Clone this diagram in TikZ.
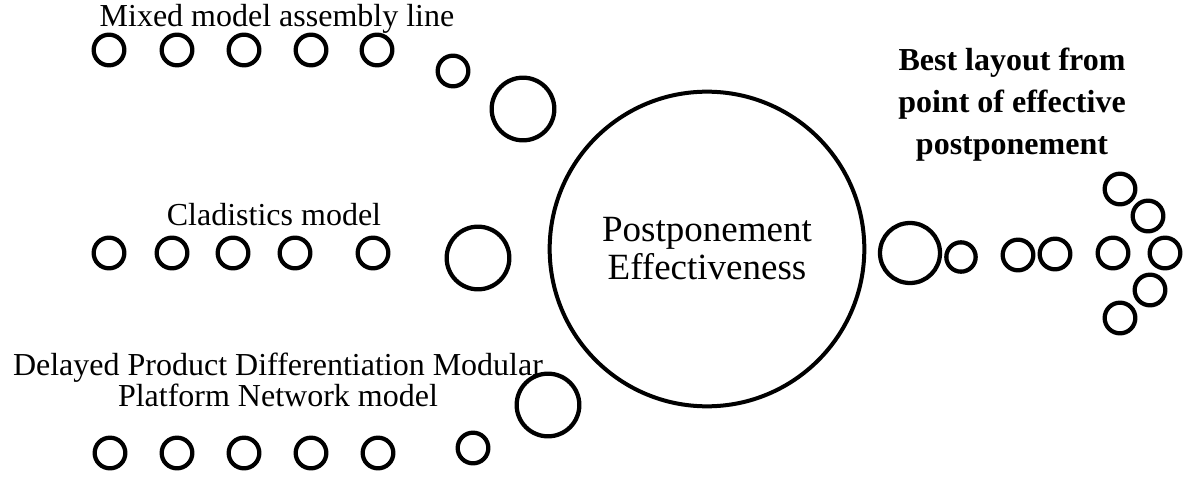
\documentclass[tikz,border=0pt]{standalone}
\usepackage{fontspec}
\setmainfont{Liberation Serif}
\usetikzlibrary{positioning}

\begin{document}
\begin{tikzpicture}[
			x=0.75pt, y=-0.75pt,
			every node/.style={inner sep=0pt, font=\fontsize{24}{24}\selectfont},
			dot/.style={circle, draw, line width=3.2pt, minimum size=23pt},
			bigdot/.style={circle, draw, line width=3.2pt, minimum size=47pt},
			hub/.style={circle, draw, line width=3pt, minimum size=236pt, align=center, font=\fontsize{27.75}{28.5}\selectfont},
			heading/.style={align=center}
			]
			\useasboundingbox (0,0) rectangle (1183,478);
			
			% Centre
			\node (hub) [hub] at (707,249) {Postponement\\Effectiveness};
			
			% Mixed model row
			\node (mixed) [heading, anchor=base] at (277,27) {Mixed model assembly line};
			\node (m1) [dot] at (109,50) {};
			\node (m2) [dot] at (177,50) {};
			\node (m3) [dot] at (244,50) {};
			\node (m4) [dot] at (311,50) {};
			\node (m5) [dot] at (377,50) {};
			\node (m6) [dot] at (453,71) {};
			\node (m7) [bigdot] at (523,109) {};
			
			% Cladistics row
			\node (clad) [heading, anchor=base] at (274,225) {Cladistics model};
			\node (c1) [dot] at (109,253) {};
			\node (c2) [dot] at (172,253) {};
			\node (c3) [dot] at (233,253) {};
			\node (c4) [dot] at (295,253) {};
			\node (c5) [dot] at (373,253) {};
			\node (c6) [bigdot] at (478,258) {};
			
			% Delayed product differentiation row
			\node (delay) [heading, anchor=north, font=\fontsize{24}{23.25}\selectfont] at (278,353) {Delayed Product Differentiation Modular\\Platform Network model};
			\node (d1) [dot] at (110,453) {};
			\node (d2) [dot] at (177,453) {};
			\node (d3) [dot] at (244,453) {};
			\node (d4) [dot] at (311,453) {};
			\node (d5) [dot] at (378,453) {};
			\node (d6) [dot] at (473,448) {};
			\node (d7) [bigdot] at (548,405) {};
			
			% Best layout
			\node (best) [heading, anchor=north, font=\fontsize{24}{31.5}\selectfont\bfseries] at (1012,48) {Best layout from\\point of effective\\postponement};
			\node (r1) [bigdot, minimum size=45pt] at (910,253) {};
			\node (r2) [dot, minimum size=22pt] at (961,257) {};
			\node (r3) [dot] at (1018,255) {};
			\node (r4) [dot] at (1055,254) {};
			\node (a1) [dot] at (1120,189) {};
			\node (a2) [dot] at (1148,216) {};
			\node (a3) [dot] at (1113,253) {};
			\node (a4) [dot] at (1165,253) {};
			\node (a5) [dot] at (1150,290) {};
			\node (a6) [dot] at (1120,318) {};
			
		\end{tikzpicture}
\end{document}
